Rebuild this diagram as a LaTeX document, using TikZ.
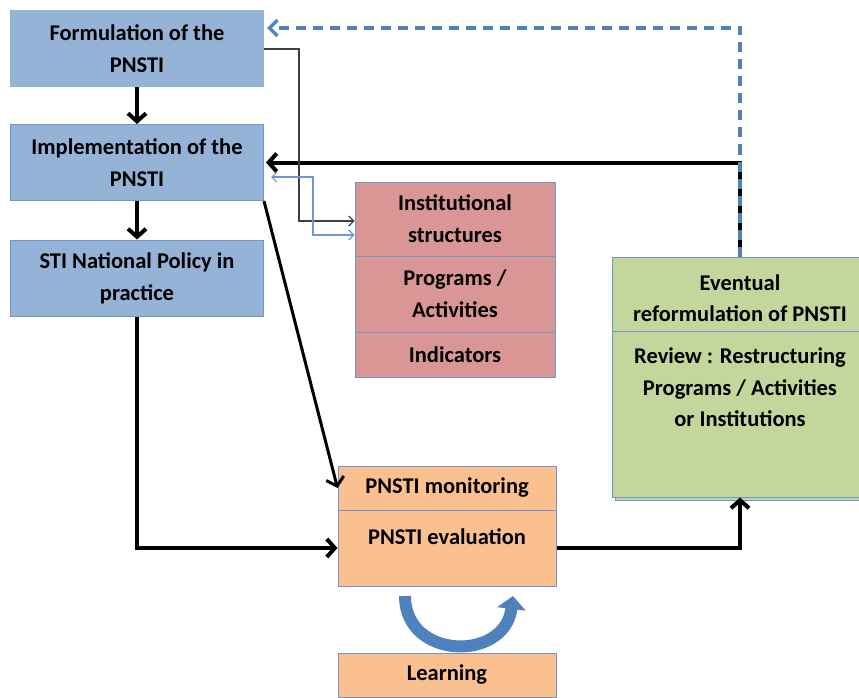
\documentclass[tikz,border=0pt]{standalone}
\usepackage{fontspec}
\setmainfont{Carlito}
\usepackage{tikz}
\usetikzlibrary{arrows.meta, positioning}
\usepackage{xcolor}
\definecolor{polblue}{RGB}{149,179,215}
\definecolor{edgeblue}{RGB}{112,150,208}
\definecolor{dashblue}{RGB}{79,129,189}
\definecolor{instred}{RGB}{217,150,148}
\definecolor{evalorange}{RGB}{250,192,144}
\definecolor{reviewgreen}{RGB}{195,214,155}
\tikzset{%
	every box/.style={
		draw=edgeblue,
		line width=1pt,
		align=center,
		inner sep=0pt,
		font=\fontsize{22.5}{32}\selectfont\bfseries
	},
	policy box/.style={every box, fill=polblue, minimum width=253pt, minimum height=76pt},
	inst box/.style={every box, fill=instred, minimum width=200pt},
	eval box/.style={every box, fill=evalorange, minimum width=218pt},
	review box/.style={every box, fill=reviewgreen, minimum width=256pt},
	plain text/.style={align=center, inner sep=0pt, font=\fontsize{22.5}{31.5}\selectfont\bfseries},
	flow/.style={line width=4pt, -{Straight Barb[length=8pt,width=18pt]}},
	link/.style={line width=1.2pt, -{Straight Barb[length=5pt,width=10pt]}},
}

\begin{document}
\begin{tikzpicture}[x=1pt,y=-1pt]
	\useasboundingbox (0,0) rectangle (859,698);
	\clip (0,0) rectangle (859,698);

	% Draw the policy column
	\node[policy box, draw=polblue] (form) at (137,49) {Formulation of the\\PNSTI};
	\node[policy box] (impl) at (137,162.5) {Implementation of the\\PNSTI};
	\node[policy box] (policy) at (137,278) {STI National Policy in\\practice};

	% Draw the instruments
	\node[inst box, minimum height=74pt] (inst) at (455,219) {Institutional\\structures};
	\node[inst box, minimum height=76pt] (prog) at (455,294) {Programs /\\Activities};
	\node[inst box, minimum height=45pt] (indic) at (455,354.5) {Indicators};

	% Draw the review box (with its shadow)
	\fill[reviewgreen, draw=edgeblue, line width=1pt] (615,260) rectangle (871,500);
	\node[review box, minimum height=240pt] (review) at (740,377) {};
	\draw[edgeblue, line width=1pt] (review.west |- 0,331) -- (review.east |- 0,331);
	\node[plain text] (eventual) at (740,298) {Eventual\\reformulation of PNSTI};
	\node[plain text, anchor=north] (restruct) at (740,348) {Review : Restructuring\\Programs / Activities\\or Institutions};

	% Draw the monitoring and evaluation
	\node[eval box, minimum height=44pt] (mon) at (447,488) {PNSTI monitoring};
	\node[eval box, minimum height=76pt] (eval) at (447,548) {};
	\node[plain text] (evaltxt) at (447,537) {PNSTI evaluation};
	\node[eval box, minimum height=44pt] (learn) at (447,675) {Learning};

	% Draw the arrows
	\draw[flow] (form) -- (impl);
	\draw[flow] (impl) -- (policy);
	\draw[flow] (policy.south) |- (eval.west);
	\draw[flow] (eval.east) -| (review.south);
	\draw[flow] (review.north) |- ([xshift=2pt]impl.east);
	\draw[flow, line width=3pt] (impl.south east) -- (mon.west);
	\draw[dashblue, line width=3.5pt, dash pattern=on 10pt off 7pt,
		-{Straight Barb[length=8pt,width=16pt]}] (review.north) |- ([xshift=3pt,yshift=21pt]form.east);

	% Draw the thin links
	\draw[link, black!75] (form.east) -- (299,49) |- ([yshift=-2pt]inst.west);
	\draw[link, edgeblue, {Straight Barb[length=5pt,width=10pt]}-{Straight Barb[length=5pt,width=10pt]}]
		([yshift=-16pt]inst.west) -| (313,177) -- ([xshift=7pt,yshift=-14.5pt]impl.east);

	% Draw the learning loop
	\coordinate (loopa) at (405,596);
	\coordinate (loopb) at (513,596);
	\draw[dashblue, line width=12pt, -{Triangle[length=13pt,width=28pt]}]
		(loopa) .. controls (405,660) and (505,662) .. (loopb);
\end{tikzpicture}
\end{document}
